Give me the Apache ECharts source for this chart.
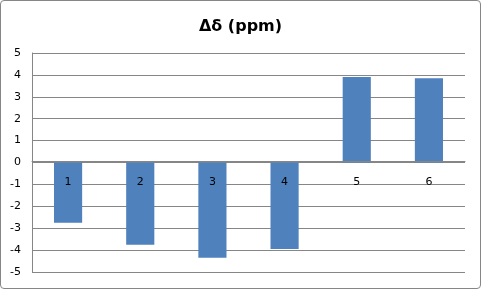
<!DOCTYPE html>
<html><head><meta charset="utf-8">
<script src="https://cdn.jsdelivr.net/npm/echarts@6/dist/echarts.min.js"></script>
<style>html,body{margin:0;padding:0;background:#fff}
#c{width:481px;height:289px;box-sizing:border-box;border:1px solid #868686;border-radius:4px;}</style>
</head><body><div id="c"></div>
<script>
var categories = ['1','2','3','4','5','6'];
var values = [-2.75, -3.75, -4.35, -3.95, 3.9, 3.85];
var yTicks = {min: -5, max: 5, interval: 1};
var titleText = 'Δδ (ppm)';

var H = 289, gridTop = 52, gridBottom = 16;
var plotH = H - gridTop - gridBottom;
// move the category axis up to the value-axis zero
var zeroOffset = -plotH * (0 - yTicks.min) / (yTicks.max - yTicks.min);

var chart = echarts.init(document.getElementById('c'), null, {renderer: 'canvas'});
chart.setOption({
  animation: false,
  title: {text: titleText, left: 'center', top: 13,
    textStyle: {fontFamily: 'DejaVu Sans', fontSize: 16, fontWeight: 'bold', color: '#000'}},
  grid: {left: 31, right: 15, top: gridTop, bottom: gridBottom, containLabel: false, outerBoundsMode: 'none'},
  xAxis: {type: 'category', data: categories, z: 5,
    offset: zeroOffset,
    axisLine: {show: true, onZero: false, lineStyle: {color: '#868686'}},
    axisTick: {show: false},
    axisLabel: {margin: 15, color: '#000', fontFamily: 'DejaVu Sans', fontSize: 11},
    splitLine: {show: false}},
  yAxis: {type: 'value', min: yTicks.min, max: yTicks.max, interval: yTicks.interval,
    axisLine: {show: true, onZero: false, lineStyle: {color: '#868686'}},
    axisTick: {show: false},
    axisLabel: {margin: 11, color: '#000', fontFamily: 'DejaVu Sans', fontSize: 11},
    splitLine: {show: true, lineStyle: {color: '#868686', width: 1}}},
  series: [{type: 'bar', data: values, barWidth: '39%',
    itemStyle: {color: '#4f81bd'}}]
});
</script></body></html>
